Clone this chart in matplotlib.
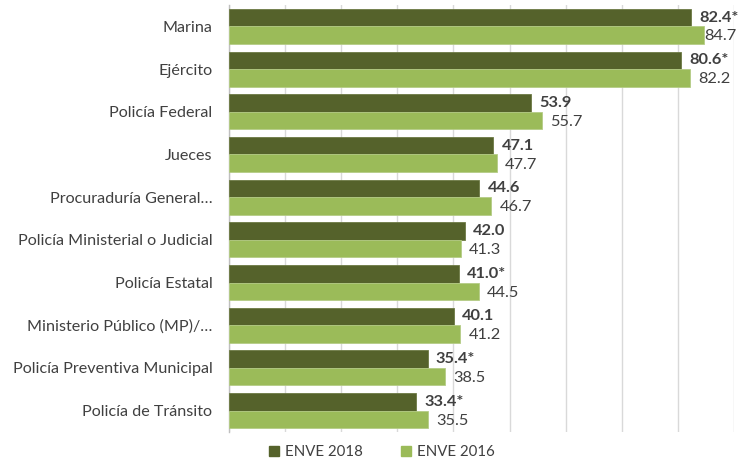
import matplotlib
matplotlib.use("Agg")
import matplotlib.pyplot as plt
import numpy as np
from matplotlib.patches import Patch

categories = ["Marina", "Ejército", "Policía Federal", "Jueces", "Procuraduría General…",
              "Policía Ministerial o Judicial", "Policía Estatal", "Ministerio Público (MP)/…",
              "Policía Preventiva Municipal", "Policía de Tránsito"]
values_2018 = [82.4, 80.6, 53.9, 47.1, 44.6, 42.0, 41.0, 40.1, 35.4, 33.4]
values_2016 = [84.7, 82.2, 55.7, 47.7, 46.7, 41.3, 44.5, 41.2, 38.5, 35.5]
significant_2018 = [True, True, False, False, False, False, True, False, True, True]
series_names = ["ENVE 2018", "ENVE 2016"]

plt.rcParams['font.family'] = ['Lato', 'DejaVu Sans']

c_dark = "#55622b"
c_light = "#9bbb59"
txt = "#404040"

fig = plt.figure(figsize=(7.56, 4.59), dpi=100)
ax = fig.add_axes([229/756, 27/459, (734-229)/756, (432-5)/459])

n = len(categories)
y = np.arange(n)
h = 0.41
ax.barh(y - h/2, values_2018, height=h, color=c_dark, edgecolor="#6d7a44", linewidth=0.6, zorder=3)
ax.barh(y + h/2, values_2016, height=h, color=c_light, edgecolor="#b5cc86", linewidth=0.6, zorder=3)

ax.set_xlim(0, 90)
ax.set_ylim(n - 0.5, -0.5)
ax.set_xticks(np.arange(0, 91, 10))
ax.set_xticklabels([])
ax.tick_params(axis='x', length=0)
ax.grid(axis='x', color="#d9d9d9", linewidth=1.0, zorder=0)
ax.set_yticks(y)
ax.set_yticklabels(categories, fontsize=11.6, color=txt)
ax.tick_params(axis='y', length=0, pad=12)
for s in ["top", "right", "bottom"]:
    ax.spines[s].set_visible(False)
ax.spines["left"].set_color("#bfbfbf")
ax.spines["left"].set_linewidth(1.0)

for i, (v, sig) in enumerate(zip(values_2018, significant_2018)):
    lab = f"{v:.1f}" + ("*" if sig else "")
    ax.annotate(lab, (v, y[i] - h/2), xytext=(6, 0), textcoords="offset points",
                va="center", ha="left", fontsize=11.8, fontweight="bold", color=txt, clip_on=False)
for i, v in enumerate(values_2016):
    off = 6 if v < 84 else 0
    ax.annotate(f"{v:.1f}", (v, y[i] + h/2), xytext=(off, -1), textcoords="offset points",
                va="center", ha="left", fontsize=11.8, color=txt, clip_on=False)

handles = [Patch(facecolor=c_dark, edgecolor=c_dark), Patch(facecolor=c_light, edgecolor=c_light)]
fig.legend(handles, series_names, loc="center", bbox_to_anchor=(0.505, 1 - 452/459), ncol=2,
           frameon=False, fontsize=10.8, handlelength=0.7, handleheight=0.7, handletextpad=0.4,
           columnspacing=2.5, labelcolor=txt)

fig.savefig("out.png", dpi=100)
